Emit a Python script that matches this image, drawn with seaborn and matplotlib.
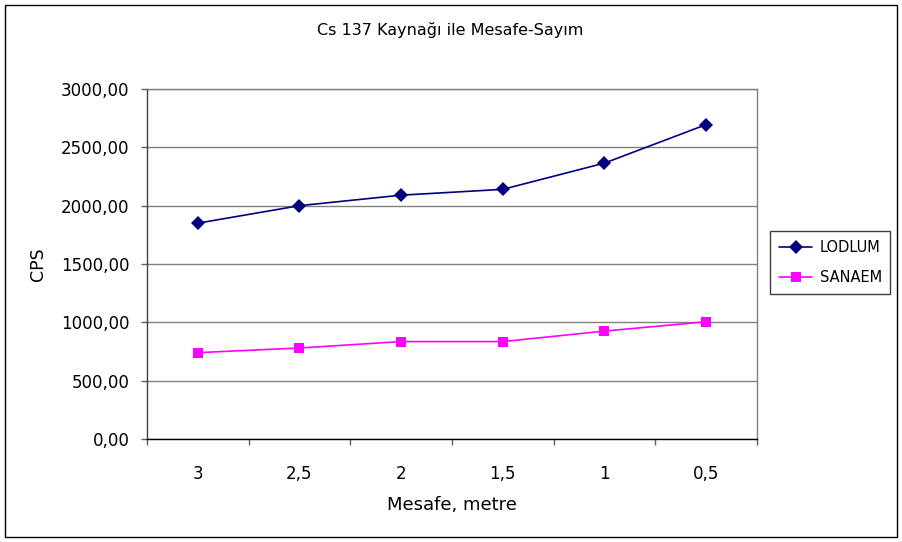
import matplotlib
matplotlib.use("Agg")
import matplotlib.pyplot as plt
import seaborn as sns
import pandas as pd
from matplotlib.ticker import FuncFormatter, FixedLocator
from matplotlib.patches import Rectangle

# Distance categories (metre) and count rates (CPS) for each detector
distances = ["3", "2,5", "2", "1,5", "1", "0,5"]
lodlum = [1850, 2000, 2090, 2140, 2365, 2695]
sanaem = [740, 780, 835, 835, 925, 1005]
series_names = ["LODLUM", "SANAEM"]
y_ticks = [0, 500, 1000, 1500, 2000, 2500, 3000]

df = pd.DataFrame({
    "Mesafe": distances * 2,
    "CPS": lodlum + sanaem,
    "Seri": [series_names[0]] * len(distances) + [series_names[1]] * len(distances),
})

sns.set_theme(style="white")
plt.rcParams["font.family"] = ["DejaVu Sans"]
plt.rcParams["text.color"] = "black"

W, H = 903, 542
fig = plt.figure(figsize=(W / 100, H / 100), dpi=100)
fig.patch.set_facecolor("white")

# outer chart border
fig.patches.append(Rectangle((5 / W, 5 / H), 892 / W, 532 / H, transform=fig.transFigure,
                             fill=False, edgecolor="black", linewidth=1.0))

ax = fig.add_axes([147 / W, 1 - 439 / H, 610 / W, 350 / H])
sns.lineplot(
    data=df, x="Mesafe", y="CPS", hue="Seri", style="Seri",
    markers={"LODLUM": "D", "SANAEM": "s"}, dashes=False,
    palette={"LODLUM": "#000080", "SANAEM": "#FF00FF"},
    markersize=7, linewidth=1.2, markeredgewidth=0, ax=ax,
)

ax.set_xlim(-0.5, len(distances) - 0.5)
ax.set_ylim(0, 3000)
ax.set_yticks(y_ticks)
ax.yaxis.set_major_formatter(FuncFormatter(lambda v, p: f"{v:.2f}".replace(".", ",")))
ax.grid(axis="y", color="#808080", linewidth=1.0)
ax.grid(axis="x", visible=False)

ax.set_xticks(range(len(distances)))
ax.set_xticklabels(distances)
ax.xaxis.set_minor_locator(FixedLocator([i - 0.5 for i in range(len(distances) + 1)]))
ax.tick_params(axis="x", which="major", length=0, pad=19, labelsize=12, labelcolor="black")
ax.tick_params(axis="x", which="minor", bottom=True, length=4, width=1, color="#606060")
ax.tick_params(axis="y", left=True, length=4, width=1, color="#606060", pad=8.5,
               labelsize=12, labelcolor="black")

for side in ["top", "right"]:
    ax.spines[side].set_color("#808080")
    ax.spines[side].set_linewidth(1.0)
ax.spines["left"].set_color("#404040")
ax.spines["bottom"].set_color("black")
for side in ["left", "bottom"]:
    ax.spines[side].set_linewidth(1.0)

ax.set_xlabel("Mesafe, metre", fontsize=13, color="black")
ax.set_ylabel("CPS", fontsize=12.5, color="black")
ax.xaxis.set_label_coords(0.5, -0.163)
ax.yaxis.set_label_coords(-0.164, 0.5)

fig.text(450 / W, 1 - 30 / H, "Cs 137 Kaynağı ile Mesafe-Sayım", ha="center", va="center",
         fontsize=11.5, color="black")

leg = ax.get_legend()
handles = leg.legend_handles
labels = [t.get_text() for t in leg.get_texts()]
leg.remove()
fig.legend(handles, labels, loc="center left", bbox_to_anchor=(770 / W, 1 - 262.5 / H),
           bbox_transform=fig.transFigure, frameon=True, fancybox=False, edgecolor="#404040",
           framealpha=1, fontsize=10.5, handlelength=2.3, handletextpad=0.5,
           borderpad=0.6, labelspacing=1.05, borderaxespad=0, labelcolor="black")

fig.savefig("out.png", dpi=100)
